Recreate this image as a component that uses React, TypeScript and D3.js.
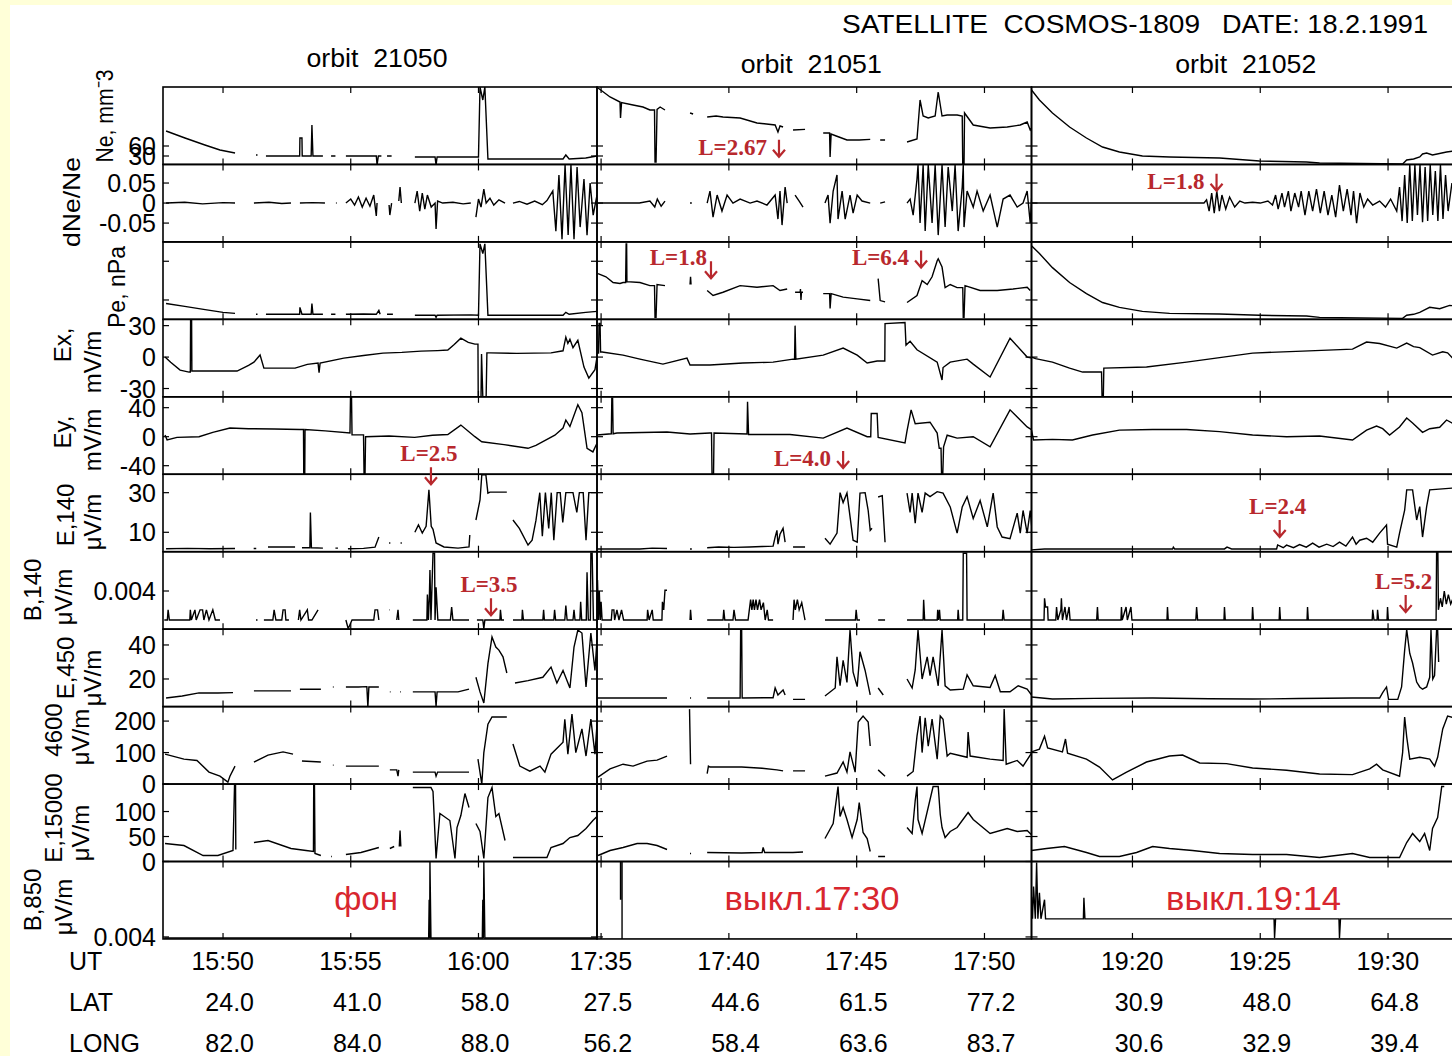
import React, { useEffect, useRef } from "react";
import * as d3 from "d3";

type Pt = [number, number] | null;

// ---------------- data ----------------
const orbits = ["21050", "21051", "21052"];
const orbitHour = [15, 17, 19];
// minutes after orbitHour shown in each column
const orbitSpan = [
  [47.65, 64.64],
  [34.84, 51.84],
  [16.05, 33.05],
];
const utLabels = [
  ["15:50", "15:55", "16:00"],
  ["17:35", "17:40", "17:45", "17:50"],
  ["19:20", "19:25", "19:30"],
];
const latLabels = [
  ["24.0", "41.0", "58.0"],
  ["27.5", "44.6", "61.5", "77.2"],
  ["30.9", "48.0", "64.8"],
];
const longLabels = [
  ["82.0", "84.0", "88.0"],
  ["56.2", "58.4", "63.6", "83.7"],
  ["30.6", "32.9", "39.4"],
];

const rowTitles = [
  ["Ne, mm⁻3"],
  ["dNe/Ne"],
  ["Pe, nPa"],
  ["Ex,", "mV/m"],
  ["Ey,", "mV/m"],
  ["E,140", "μV/m"],
  ["B,140", "μV/m"],
  ["E,450", "μV/m"],
  ["4600", "μV/m"],
  ["E,15000", "μV/m"],
  ["B,850", "μV/m"],
];
const rowDomains = [
  [4.65, 237],
  [-0.097, 0.0964],
  [0, 4],
  [-37.9, 36],
  [-51.8, 55],
  [0.2, 39.3],
  [-0.00126, 0.00942],
  [3.76, 49.3],
  [0, 246],
  [0, 155],
  [0.0038, 0.0115],
];
const rowTicks = [
  [30, 60],
  [-0.05, 0, 0.05],
  [1, 3],
  [-30, 0, 30],
  [-40, 0, 40],
  [10, 30],
  [0.004],
  [20, 40],
  [0, 100, 200],
  [0, 50, 100],
  [0.004],
];
const rowTickText = [true, true, false, true, true, true, true, true, true, true, true];

// Ne
const ne0: Pt[] = [[47.77,105],[48.51,84],[49.29,63],[49.88,48],[50.47,39],null,[51.29,33],[51.35,33],null,[51.68,30],[52.74,30],[53.0,30],[53.01,84],[53.09,84],[53.1,30],[53.45,30],[53.48,123],[53.52,30],[53.91,30],null,[54.23,30],[54.4,30],null,[54.81,30],[55.87,30],[56.0,30],[56.03,3],[56.08,30],[56.2,30],null,[56.42,30],[56.6,30],null,[57.51,27],[58.3,27],[58.34,3],[58.38,27],[59.7,27],[60.0,27],[60.06,237],[60.17,198],[60.25,237],[60.37,21],[63.31,21],[63.42,33],[63.55,21],[64.2,24],[64.64,30]];
const ne1: Pt[] = [[34.88,234],[35.35,207],[35.74,192],[35.76,144],[35.8,190],[36.25,183],[36.64,177],[36.91,168],[37.09,168],[37.11,12],[37.15,12],[37.19,170],[37.31,177],[37.5,168],null,[38.48,159],[38.6,156],null,[39.15,147],[39.5,150],[39.77,147],[40.44,144],[41.1,129],[41.81,123],[41.92,102],[42.0,120],[42.12,117],null,[42.51,108],[42.98,110],null,[43.69,99],[43.94,99],[43.96,27],[44.0,96],[44.2,90],[44.62,78],[45.1,78],[45.53,80],null,[45.92,78],[46.11,78],null,[46.97,72],[47.36,81],[47.48,198],[47.6,150],[47.8,144],[48.07,150],[48.19,222],[48.34,150],[48.54,153],[48.93,153],[49.13,150],[49.15,3],[49.2,3],[49.22,159],[49.56,123],[50.22,114],[50.89,117],[51.4,123],[51.67,132],[51.79,108],[51.87,117]];
const ne2: Pt[] = [[16.05,228],[16.36,198],[16.87,159],[17.54,117],[18.2,84],[18.83,57],[19.49,42],[20.39,30],[21.45,27],[23.41,24],[24.97,15],[26.81,12],[27.32,9],[30.57,6],[30.73,18],[31.0,21],[31.24,27],[31.35,36],[31.51,39],[31.74,33],[32.29,42],[32.6,45]];

// dNe/Ne
const dne0: Pt[] = [[47.77,0],[48.5,0.002],[49.2,-0.002],[50.0,0.001],[50.47,0],null,[51.21,0],[51.8,0.002],[52.3,-0.001],[52.66,0],null,[53.01,0],[53.5,0.001],[53.99,0],null,[54.42,0],[54.45,0],null,[54.81,0],[55.0,0.01],[55.15,-0.005],[55.3,0.015],[55.45,-0.01],[55.6,0.012],[55.75,-0.008],[55.9,0.02],[56.0,-0.032],[56.03,0],null,[56.5,-0.005],[56.53,-0.03],[56.6,0],null,[56.88,0.005],[56.93,0.04],[56.98,0],null,[57.51,0],[57.6,0.03],[57.7,-0.02],[57.8,0.025],[57.9,-0.015],[58.0,0.02],[58.15,-0.01],[58.3,0],[58.34,-0.065],[58.4,0.005],[58.6,0],[59.0,0.002],[59.4,-0.002],[59.7,0],null,[59.9,-0.035],[60.0,0.01],[60.1,-0.01],[60.21,0.035],[60.3,0],[60.45,0.012],[60.6,-0.005],[60.8,0.008],[61.04,0],null,[61.35,0],[61.6,0.004],[61.9,-0.003],[62.2,0.005],[62.5,-0.004],[62.68,0.006],[62.91,0.03],[63.03,-0.07],[63.15,0.07],[63.27,-0.09],[63.39,0.095],[63.51,-0.08],[63.62,0.095],[63.74,-0.09],[63.86,0.09],[63.98,-0.06],[64.13,0.06],[64.25,-0.08],[64.37,0.05],[64.49,-0.03],[64.64,0.02]];
const dne1: Pt[] = [[34.88,0],[36.5,0],[36.91,0.005],[37.1,-0.01],[37.2,0.01],[37.35,-0.008],[37.5,0.005],null,[38.48,0],[38.55,0],null,[39.15,0],[39.26,0.03],[39.38,-0.035],[39.54,0.02],[39.73,-0.02],[39.93,0.02],[40.16,0],[40.44,0.01],[40.83,0],[41.1,0.005],[41.49,-0.005],[41.81,0.02],[41.92,-0.04],[42.0,0.03],[42.08,-0.055],[42.2,0.04],[42.28,0],null,[42.59,0.02],[42.75,0.005],[42.9,-0.01],null,[43.76,0],[43.88,0.02],[43.96,-0.05],[44.08,0.03],[44.23,0.07],[44.27,-0.04],[44.43,0.03],[44.55,-0.04],[44.74,0.02],[44.86,-0.025],[45.02,0.02],[45.21,0.005],[45.53,0],null,[45.92,0],[46.11,0.003],null,[46.97,0],[47.09,0.01],[47.21,-0.03],[47.36,0.06],[47.4,0.095],[47.48,-0.05],[47.6,0.095],[47.68,-0.07],[47.8,0.095],[47.95,-0.05],[48.07,0.095],[48.19,-0.08],[48.34,0.095],[48.46,-0.06],[48.58,0.09],[48.74,-0.02],[48.85,0.095],[48.97,-0.07],[49.13,0.04],[49.17,0.095],[49.2,-0.06],[49.32,0.03],[49.56,-0.01],[49.71,0.03],[49.95,-0.02],[50.22,0.02],[50.5,-0.06],[50.73,0.01],[51.0,0.02],[51.28,-0.01],[51.51,0],[51.67,0.03],[51.79,-0.05],[51.87,0.04]];
const dne2: Pt[] = [[16.05,0],[22.8,0],[22.9,0.008],[23.0,-0.02],[23.1,0.025],[23.2,-0.025],[23.3,0.03],[23.4,-0.02],[23.5,0.02],[23.65,-0.015],[23.8,0.015],[24.0,-0.01],[24.2,0.005],[24.4,0],[24.7,0.002],[25.0,0],[25.3,0.005],[25.48,-0.005],[25.6,0.02],[25.7,-0.015],[25.85,0.025],[25.95,-0.01],[26.1,0.03],[26.2,-0.02],[26.35,0.025],[26.5,-0.01],[26.6,0.03],[26.75,-0.03],[26.9,0.03],[27.05,-0.02],[27.2,0.035],[27.35,-0.025],[27.5,0.03],[27.65,-0.03],[27.8,0.02],[27.95,-0.035],[28.1,0.045],[28.25,-0.02],[28.4,0.035],[28.55,-0.03],[28.65,0.03],[28.77,-0.05],[28.9,0.025],[29.05,-0.01],[29.2,0.01],[29.4,-0.005],[29.67,0.005],[29.9,-0.01],[30.1,0.01],[30.34,-0.02],[30.45,0.04],[30.55,-0.045],[30.65,0.07],[30.75,-0.05],[30.85,0.095],[30.95,-0.045],[31.05,0.095],[31.15,-0.03],[31.25,0.095],[31.35,-0.048],[31.45,0.09],[31.55,-0.045],[31.65,0.095],[31.75,-0.03],[31.85,0.08],[31.95,-0.045],[32.05,0.095],[32.15,-0.04],[32.25,0.07],[32.35,-0.02],[32.5,0.05]];

// Pe
const pe0: Pt[] = [[47.77,0.82],[48.5,0.67],[49.3,0.5],[50.0,0.36],[50.47,0.31],null,[51.29,0.26],[51.35,0.26],null,[51.68,0.26],[53.0,0.26],[53.01,0.62],[53.09,0.26],[53.45,0.26],[53.48,0.82],[53.52,0.26],[53.91,0.26],null,[54.23,0.26],[54.4,0.26],null,[54.81,0.26],[55.5,0.28],[56.0,0.26],[56.1,0.46],[56.15,0.26],null,[56.42,0.26],[56.65,0.26],null,[57.51,0.21],[58.3,0.21],[58.34,0.1],[58.38,0.21],[59.7,0.23],[60.0,0.21],[60.06,3.9],[60.17,3.4],[60.25,3.9],[60.37,0.21],[63.31,0.21],[63.42,0.36],[63.55,0.26],[64.2,0.36],[64.64,0.41]];
const pe1: Pt[] = [[34.88,2.36],[35.19,2.2],[35.47,1.9],[35.74,1.85],[35.86,1.9],[35.96,1.9],[35.98,3.9],[36.0,3.9],[36.01,1.95],[36.52,1.9],[36.91,1.74],[37.09,1.74],[37.11,0.1],[37.15,0.1],[37.19,1.8],[37.5,1.74],null,[38.48,1.8],[38.5,2.2],[38.52,1.8],null,[39.15,1.49],[39.38,1.23],[39.77,1.4],[40.44,1.74],[41.1,1.66],[41.73,1.74],[42.0,1.49],[42.28,1.57],null,[42.59,1.4],[42.79,1.4],[42.8,1.57],[42.82,1.0],[42.84,1.4],[42.9,1.4],null,[43.69,1.33],[43.94,1.33],[43.96,0.56],[44.0,1.33],[44.47,1.15],[45.02,1.06],[45.53,0.97],null,[45.84,2.1],[45.92,0.97],[46.11,0.9],null,[46.97,0.87],[47.36,1.23],[47.56,2.0],[47.76,1.8],[47.95,2.2],[48.15,3.03],[48.19,3.13],[48.34,2.7],[48.46,1.64],[48.66,1.8],[48.93,1.64],[49.15,1.64],[49.17,0.1],[49.2,0.1],[49.24,1.74],[49.83,1.49],[50.5,1.49],[51.12,1.57],[51.67,1.66],[51.79,1.49]];
const pe2: Pt[] = [[16.05,3.8],[16.36,3.4],[16.87,2.67],[17.54,1.9],[18.2,1.33],[18.83,0.87],[19.49,0.62],[20.39,0.41],[21.45,0.31],[23.41,0.28],[24.97,0.21],[26.81,0.17],[27.32,0.1],[30.57,0.05],[30.73,0.21],[31.0,0.26],[31.24,0.36],[31.45,0.5],[31.63,0.62],[32.02,0.55],[32.41,0.72],[32.6,0.7]];

// Ex
const ex0: Pt[] = [[47.73,0],[47.95,-5],[48.32,-12.4],[48.67,-14.3],[48.72,-14.3],[48.73,35],[48.77,35],[48.78,-13.3],[50.55,-13.3],[51.0,-8],[51.21,-4.8],[51.45,2],[51.6,-10.5],[52.82,-10.5],[53.3,-7],[53.72,-5.7],[53.76,-15],[53.8,-5.7],[54.73,-1],[55.5,1.5],[56.26,3.8],[57.0,4.5],[57.75,5.7],[58.4,6.2],[58.8,6.7],[59.05,12],[59.31,18],[59.6,14],[59.86,12.4],[59.98,12.4],[59.99,-38],[60.1,-38],[60.12,3],[60.17,-38],[60.3,-38],[60.33,4],[60.45,4],[61.5,3.5],[62.84,4],[63.31,6],[63.42,19],[63.5,13],[63.58,17],[63.7,9],[63.89,16],[64.13,-9.5],[64.32,-20],[64.56,-12],[64.64,0]];
const ex1: Pt[] = [[34.84,3.8],[34.9,3.8],[34.92,32],[34.96,32],[34.98,4.8],[35.04,4.8],[35.86,1.9],[36.52,-1.9],[37.42,-6.7],[38.36,-1],[38.48,-7.6],[39.26,-7.6],[40.55,-5.7],[41.73,-4.8],[42.51,-2],[42.57,-2],[42.59,30],[42.62,-2],[43.69,1.9],[44.47,8.6],[45.02,1.9],[45.41,-5.7],[45.8,-3.8],[46.1,-3.8],[46.11,32],[46.89,33],[46.93,11.4],[47.09,15],[47.36,7],[48.15,-4.8],[48.34,-21.9],[48.38,-10],[48.66,-4.8],[49.32,-2],[49.56,-6.7],[50.22,-19],[51.0,18],[51.67,0],[51.87,-1]];
const ex2: Pt[] = [[16.05,0],[16.21,-1.5],[16.87,-4.8],[17.54,-10.5],[18.05,-14.3],[18.79,-14.3],[18.81,-38],[18.86,-38],[18.88,-10.5],[20.55,-9.5],[22.12,-4.8],[24.7,3.8],[26.66,5.7],[28.61,7.6],[29.16,14.3],[29.67,13],[30.34,8.6],[30.73,13.3],[31.0,10],[31.24,9],[31.74,1.9],[32.14,5],[32.33,4],[32.6,-3]];

// Ey
const ey0: Pt[] = [[47.73,2.3],[47.81,-4.4],[48.2,-1],[49.06,0],[49.6,6],[50.27,12],[51.0,11],[52.0,10.6],[53.0,10],[53.15,10],[53.16,-51],[53.2,-51],[53.21,10],[54.0,8],[54.97,5],[54.99,55],[55.03,55],[55.05,2.5],[55.5,2.5],[55.52,-51],[55.56,-51],[55.58,0],[56.5,1],[57.5,-1],[58.2,2],[58.8,3],[59.31,16],[59.86,0],[60.13,-7],[61.0,-11],[61.94,-16],[62.25,-12],[62.99,2],[63.31,12],[63.42,23],[63.58,14],[63.89,44],[64.05,33],[64.25,-16],[64.48,-21],[64.64,-9]];
const ey1: Pt[] = [[34.84,2.3],[35.4,4],[35.42,53],[35.45,53],[35.47,4],[35.62,5],[37.58,6.5],[38.48,3.7],[39.26,5],[39.32,5],[39.34,-51],[39.4,-51],[39.42,5],[40.71,3.7],[40.73,48],[40.77,3],[42.39,3],[43.69,-2],[44.62,12],[45.41,0],[45.55,0],[45.57,32],[45.8,32],[45.84,-1],[46.89,-8.6],[46.97,8],[47.13,37],[47.29,18],[47.87,20],[48.15,5],[48.23,-16],[48.3,-16],[48.32,-51],[48.37,-51],[48.4,-14],[48.54,2],[48.93,-2],[49.56,0],[50.22,-14],[51.0,37],[51.67,13.4],[51.87,9]];
const ey2: Pt[] = [[16.05,9],[16.13,-4.6],[16.87,-3.7],[17.65,-4.6],[18.44,2.3],[19.49,9],[20.79,10],[22.12,10],[23.41,7],[24.7,2.3],[26.03,0],[27.32,1],[28.61,-4.6],[29.16,9],[29.55,14.7],[29.79,11],[30.06,2.3],[30.45,13.4],[30.73,25.8],[30.96,19],[31.35,6],[31.63,11],[32.02,13],[32.29,23],[32.6,17]];

// E,140
const e140_0: Pt[] = [[47.77,1.7],[48.6,1.9],[49.5,1.7],[50.47,1.8],null,[51.2,1.8],[51.3,1.8],null,[51.76,2.6],[52.82,2.6],null,[53.09,2.2],[53.4,2.2],[53.42,20],[53.46,2.2],[53.91,2.0],null,[54.4,2],[54.5,2],null,[54.89,1.7],[55.5,1.9],[55.95,2.5],[56.1,7.6],null,[56.5,4.6],[56.55,4.6],null,[56.95,4.6],[57.0,4.6],null,[57.51,10],[57.65,13.7],[57.8,9.6],[57.95,13],[58.06,31.4],[58.15,13],[58.22,11.5],[58.34,4.6],[58.65,2.6],[59.2,2.0],[59.63,2.6],[59.66,8.6],null,[59.9,16.2],[60.06,26.3],[60.13,39],[60.29,39],[60.37,29.8],[60.45,30.3],[61.11,30.3],null,[61.35,16.2],[61.6,12],[61.94,3.6],[62.1,6],[62.25,16],[62.4,30],[62.5,8],[62.62,30],[62.75,12],[62.85,30],[62.95,6],[63.08,30],[63.2,30],[63.3,15],[63.42,30],[63.55,30],[63.7,30],[63.85,20],[63.95,30],[64.1,30],[64.21,6],[64.32,30],[64.64,30]];
const e140_1: Pt[] = [[34.84,1.6],[36.52,1.6],[37.0,2.0],[37.58,1.8],null,[38.48,1.6],[38.55,1.6],null,[39.15,2.2],[39.6,2.6],[40.2,2.4],[40.8,2.6],[41.3,2.8],[41.73,3],[41.81,7.6],[41.88,11],[41.92,4],[42.0,9],[42.12,12],[42.2,5],null,[42.51,2.6],[42.98,2.6],null,[43.76,7],[43.96,4],[44.23,9.6],[44.35,30],[44.47,25],[44.62,29.8],[44.86,6],[45.02,5],[45.13,29.8],[45.33,30],[45.45,21],[45.53,11],[45.6,12],null,[45.84,27.8],[46.0,28.5],[46.11,5],null,[46.97,29.8],[47.09,20],[47.17,29.8],[47.29,14.6],[47.4,29.8],[47.56,20],[47.68,29.8],[47.87,28],[48.15,30.5],[48.38,29.8],[48.66,22.8],[48.93,9.6],[49.13,22.8],[49.32,28],[49.56,17],[49.83,26],[50.11,12.7],[50.34,29.8],[50.5,12.7],[50.69,7.6],[51.0,6.8],[51.28,19.7],[51.4,9.6],[51.51,21],[51.67,9.6],[51.79,21],[51.87,10]];
const e140_2: Pt[] = [[16.05,1.1],[16.56,1.6],[21.57,1.6],[21.6,2.5],[21.65,1.6],[23.6,1.6],[23.7,2.5],[23.88,1.6],[25.64,1.6],[25.68,3.6],[25.9,2.2],[26.03,3.5],[26.3,2.2],[26.54,3.8],[26.8,2.5],[27.05,4.5],[27.3,2.5],[27.6,4],[27.85,2.8],[28.1,5],[28.35,3],[28.61,7.6],[28.75,4],[28.89,6],[29.16,7],[29.4,5],[29.67,9.6],[29.94,13.7],[29.98,4],[30.34,2.5],[30.45,9.6],[30.65,21.2],[30.73,31.4],[30.96,31.4],[31.12,16.2],[31.24,23],[31.35,7.6],[31.51,23],[31.63,31.4],[32.6,32.4]];

// B,140
const b140_0: Pt[] = [[47.7,0],[47.82,0],[47.85,0.0014],[47.9,0],[48.7,0],[48.72,0.0014],[48.76,0],[48.9,0.0014],[48.95,0],[49.1,0.0014],[49.2,0.0014],[49.25,0],[49.35,0.0014],[49.45,0],[49.6,0.0014],[49.7,0],[49.88,0],null,[51.29,0],[51.35,0],null,[51.6,0],[51.95,0],[52.0,0.0014],[52.07,0],[52.3,0],[52.35,0.0014],[52.43,0.0014],[52.46,0],[52.58,0],null,[52.95,0],[53.0,0.0014],[53.05,0],[53.3,0.0014],[53.35,0],[53.48,0],[53.72,0.0014],null,[54.81,0],[54.9,-0.0012],[55.05,0],[55.9,0],[55.95,0.0014],[56.05,0.0014],[56.1,0],null,[56.5,0.0014],[56.52,0.0014],null,[56.8,0],[56.85,0.0014],[56.88,0],null,[57.43,0],[57.98,0],[58.0,0.0035],[58.04,0],[58.08,0.0035],[58.1,0.0069],[58.14,0],[58.22,0.0092],[58.28,0.0092],[58.3,0],[58.34,0.0045],[58.41,0],[58.9,0],[58.95,0.0018],[59.0,0],[59.63,0],null,[59.94,0],[60.17,0],[60.21,-0.0012],[60.25,0],[60.45,0],[60.84,0],[60.86,0.0014],[60.9,0],[61.0,0],null,[61.35,0],[61.7,0],[61.72,0.0014],[61.76,0],[62.52,0],[62.55,0.0014],[62.58,0],[62.95,0],[62.98,0.0014],[63.02,0],[63.38,0],[63.42,0.002],[63.47,0],[63.7,0],[63.74,0.0014],[63.78,0],[63.97,0],[64.0,0.0025],[64.04,0],[64.22,0],[64.25,0.0066],[64.3,0],[64.38,0],[64.4,0.0092],[64.45,0.0092],[64.5,0],[64.64,0]];
const b140_1: Pt[] = [[34.84,0],[34.86,0.0055],[34.9,0],[34.93,0.004],[34.97,0],[35.0,0.0025],[35.04,0],[35.4,0],[35.43,0.0014],[35.5,0.0014],[35.53,0],[35.62,0.0014],[35.7,0],[35.8,0.0014],[35.88,0],[36.01,0],[36.8,0],[36.82,0.0014],[36.88,0],[37.0,0.0014],[37.04,0],[37.38,0],[37.4,0.0025],[37.45,0.0014],[37.5,0.0041],[37.58,0.0041],null,[38.48,0],[38.5,0.0014],[38.53,0],null,[39.15,0],[39.77,0],[39.8,0.0014],[39.84,0],[40.16,0],[40.2,0.0014],[40.26,0],[40.75,0],[40.8,0.0014],[40.85,0.0028],[40.9,0.0014],[40.95,0.0028],[41.0,0.0014],[41.06,0.0028],[41.12,0.0014],[41.2,0.0028],[41.26,0.0014],[41.35,0.0024],[41.42,0],[41.5,0.0014],[41.55,0],[41.73,0],null,[42.51,0],[42.55,0.0028],[42.6,0.0014],[42.68,0.0028],[42.75,0.0014],[42.85,0.0024],[42.98,0],null,[43.76,0],[44.95,0],[44.98,0.0014],[45.02,0],[45.13,0],null,[45.84,0],[46.11,0],null,[46.97,0],[47.6,0],[47.62,0.0028],[47.66,0],[48.15,0],[48.17,0.0014],[48.2,0],[48.24,0.0014],[48.27,0],[48.95,0],[48.97,0.0014],[49.0,0],[49.15,0],[49.17,0.0092],[49.3,0.0092],[49.32,0],[50.7,0],[50.73,0.0014],[50.77,0],[51.87,0]];
const b140_2: Pt[] = [[16.05,0],[16.54,0],[16.56,0.003],[16.6,0.0018],[16.68,0.0018],[16.7,0],[17.0,0],[17.03,0.0018],[17.08,0],[17.2,0.0014],[17.22,0.003],[17.26,0],[17.36,0.0018],[17.42,0],[17.52,0.0018],[17.56,0],[18.6,0],[18.63,0.0018],[18.66,0],[19.55,0],[19.57,0.0018],[19.6,0],[19.75,0.0018],[19.8,0],[19.94,0.0018],[19.98,0],[21.35,0],[21.37,0.0018],[21.4,0],[22.48,0],[22.51,0.0018],[22.55,0],[23.58,0],[23.6,0.0018],[23.63,0],[24.68,0],[24.7,0.0018],[24.73,0],[25.74,0],[25.76,0.0018],[25.79,0],[26.83,0],[26.85,0.0018],[26.88,0],[29.38,0],[29.4,0.0014],[29.45,0],[29.57,0],[29.59,0.0014],[29.63,0],[29.96,0],[29.98,0.0018],[30.01,0],[31.88,0],[31.9,0.0094],[31.95,0.0094],[31.97,0.0014],[32.05,0.003],[32.12,0.0018],[32.2,0.004],[32.28,0.0022],[32.36,0.0035],[32.45,0.0022],[32.6,0.0035]];

// E,450
const e450_0: Pt[] = [[47.77,8.8],[48.4,10],[49.06,11.8],[49.8,11.8],[50.39,12],null,[51.21,13],[52.0,13],[52.66,13],null,[53.01,14],[53.83,14],null,[54.3,15.3],[54.33,15.3],null,[54.81,15.3],[55.3,15.3],[55.63,15.5],[55.67,3.5],[55.71,15.3],[56.1,15.3],null,[56.53,12.4],[56.56,12.4],null,[56.93,12.4],[56.96,12.4],null,[57.43,12.4],[58.3,12.4],[58.34,4],[58.38,12.4],[59.2,12.4],[59.63,14],null,[59.9,21],[60.06,12.4],[60.21,5.9],[60.37,29],[60.53,44.7],[60.68,38.8],[60.8,37],[60.96,33],[61.11,23.5],null,[61.43,17.6],[61.94,19],[62.52,21],[62.84,27],[63.07,17.6],[63.31,25],[63.58,14.7],[63.74,38.8],[63.89,48.8],[64.05,47],[64.21,15.3],[64.4,47],[64.56,25],[64.64,43]];
const e450_1: Pt[] = [[34.84,8.8],[36.0,8.8],[37.58,8.8],null,[38.48,8.8],[38.52,8.8],null,[39.15,8.8],[40.44,8.8],[40.46,48.8],[40.5,48.8],[40.52,8.8],[41.73,9],[41.81,14.7],[41.92,10.6],[42.12,13.5],[42.2,10.6],null,[42.51,8],[42.98,8],null,[43.76,10],[44.16,14.7],[44.23,33],[44.35,16],[44.47,31],[44.62,18],[44.74,48.8],[44.86,24],[45.02,15.5],[45.13,36],[45.33,25],[45.53,10.6],null,[45.84,14.7],[46.04,10.6],null,[46.97,20],[47.17,14.7],[47.29,25.3],[47.4,48.8],[47.56,20],[47.76,33],[47.87,22],[47.99,33],[48.19,16],[48.34,48.8],[48.46,16],[48.66,13.5],[49.17,14],[49.32,22.4],[49.56,16],[50.22,15],[50.42,22],[50.62,12.5],[51.0,12.5],[51.32,16],[51.67,14],[51.87,10]];
const e450_2: Pt[] = [[16.05,9.4],[16.87,8.2],[18.5,8.6],[20.79,8.8],[23.0,8.4],[24.7,8.2],[26.5,8.5],[28.61,8.8],[29.67,8.8],[29.79,12],[29.94,15.3],[30.02,8],[30.38,8],[30.53,15.3],[30.65,37],[30.73,49],[30.85,35],[30.96,29.4],[31.12,18.2],[31.24,15.3],[31.35,14],[31.51,15.3],[31.63,21],[31.68,49],[31.75,20],[31.82,22],[31.9,49],[31.94,49],[31.98,30]];

// E,4600
const e4600_0: Pt[] = [[47.73,95],[48.47,79],[48.98,75],[49.45,38],[49.88,25],[50.19,6],[50.27,25],[50.47,57],null,[51.21,70],[51.76,92],[52.35,102],[52.74,95],null,[53.09,73],[53.83,70],null,[54.3,60],[54.33,60],null,[54.81,57],[56.1,57],null,[56.53,45],[56.8,45],[56.85,25],[56.88,45],null,[57.43,38],[58.3,38],[58.34,25],[58.4,38],[59.63,38],null,[59.98,79],[60.13,0],[60.21,100],[60.37,190],[60.53,213],[61.11,213],null,[61.35,127],[61.62,57],[62.01,41],[62.41,57],[62.6,38],[62.84,95],[63.31,133],[63.38,206],[63.5,95],[63.66,222],[63.81,100],[64.05,175],[64.21,89],[64.4,206],[64.56,95],[64.64,190]];
const e4600_1: Pt[] = [[34.88,22],[35.35,48],[35.86,63],[36.25,57],[36.8,73],[37.19,76],[37.58,89],null,[38.46,238],[38.5,63],null,[39.15,33],[39.2,57],[39.26,54],[40.5,54],[41.3,50],[41.88,45],[42.12,42],null,[42.51,42],[42.98,42],null,[43.76,25],[44.23,35],[44.47,70],[44.62,38],[44.74,102],[44.94,38],[45.06,197],[45.25,216],[45.45,197],[45.53,121],null,[45.84,45],[46.11,25],null,[46.97,25],[47.21,40],[47.36,152],[47.48,216],[47.56,100],[47.68,210],[47.8,120],[47.95,206],[48.15,79],[48.27,216],[48.38,206],[48.54,89],[48.66,98],[49.32,85],[49.36,165],[49.44,89],[50.22,79],[50.73,75],[50.77,238],[50.85,63],[51.28,75],[51.51,57],[51.87,102]];
const e4600_2: Pt[] = [[16.05,102],[16.36,111],[16.56,152],[16.68,115],[17.26,102],[17.38,143],[17.46,98],[18.2,79],[18.71,54],[19.22,13],[19.77,38],[20.55,70],[21.45,89],[21.96,92],[22.63,67],[23.68,65],[24.7,51],[26.03,44],[27.32,32],[28.61,30],[29.28,48],[29.55,63],[29.79,45],[30.45,25],[30.57,100],[30.65,213],[30.73,150],[30.85,79],[31.24,85],[31.63,79],[31.82,57],[31.94,85],[32.14,175],[32.33,216],[32.6,210]];

// E,15000
const e15k_0: Pt[] = [[47.73,36],[48.47,32],[49.22,12],[49.8,12],[50.39,22],[50.45,152],[50.49,152],[50.5,24],null,[51.21,38],[51.76,42],[52.66,26],[53.25,22],[53.54,20],[53.55,152],[53.58,152],[53.6,16],[53.83,12],null,[54.23,10],[54.26,10],null,[54.81,14],[55.4,18],[56.1,28],null,[56.53,26],[56.7,30],null,[56.9,30],[56.93,62],[56.96,30],null,[57.43,148],[58.14,148],[58.22,140],[58.34,6],[58.49,96],[58.88,82],[59.08,6],[59.16,68],[59.31,92],[59.47,136],[59.63,108],null,[59.9,76],[60.06,60],[60.21,6],[60.37,128],[60.53,148],[60.68,90],[60.8,96],[61.04,42],null,[61.35,8],[62.68,8],[62.84,28],[63.31,36],[63.58,48],[63.89,52],[64.21,66],[64.48,82],[64.64,90]];
const e15k_1: Pt[] = [[34.88,12],[35.35,22],[35.86,28],[36.41,36],[36.8,36],[37.19,32],[37.58,24],null,[38.48,16],[38.52,16],null,[39.15,18],[40.5,17],[41.3,18],[41.34,28],[41.4,18],[42.5,18],[42.9,19],null,[43.76,46],[44.08,76],[44.27,150],[44.35,90],[44.47,108],[44.62,84],[44.82,48],[45.02,84],[45.1,118],[45.25,58],[45.41,46],[45.53,20],null,[45.84,10],[46.11,10],null,[46.97,68],[47.17,56],[47.29,122],[47.36,150],[47.4,84],[47.56,56],[47.99,150],[48.19,150],[48.27,94],[48.34,68],[48.46,48],[48.66,60],[48.93,68],[49.36,98],[49.56,84],[50.22,56],[50.89,66],[51.28,60],[51.67,62],[51.87,52]];
const e15k_2: Pt[] = [[16.05,22],[16.64,26],[17.34,30],[18.2,18],[18.71,10],[19.49,10],[20.16,18],[20.79,30],[21.45,26],[22.35,22],[23.41,16],[24.7,14],[26.03,14],[27.32,8],[28.61,16],[29.28,8],[30.45,8],[30.73,38],[30.96,56],[31.24,40],[31.43,56],[31.63,22],[31.74,66],[31.94,88],[32.1,150],[32.2,150]];

// B,850
const b850_0: Pt[] = [[47.7,0.0039],[58.05,0.0039],[58.07,0.0077],[58.09,0.0039],[58.1,0.0115],[58.14,0.0039],[60.15,0.0039],[60.17,0.0077],[60.19,0.0039],[60.21,0.0115],[60.25,0.0039],[64.64,0.0039]];
const b850_1: Pt[] = [[35.76,0.0115],[35.76,0.0077],null,[35.82,0.0115],[35.82,0.0038]];
const b850_2: Pt[] = [[16.05,0.008],[16.09,0.0058],[16.13,0.009],[16.2,0.0058],[16.25,0.0114],[16.3,0.0058],[16.36,0.0084],[16.42,0.0058],[16.56,0.0077],[16.6,0.0058],[18.08,0.0058],[18.1,0.0079],[18.14,0.0058],[25.54,0.0058],[25.56,0.0039],[25.6,0.0058],[28.08,0.0058],[28.1,0.0039],[28.14,0.0058],[32.6,0.0058]];

const traces: Pt[][][] = [
  [ne0, ne1, ne2],
  [dne0, dne1, dne2],
  [pe0, pe1, pe2],
  [ex0, ex1, ex2],
  [ey0, ey1, ey2],
  [e140_0, e140_1, e140_2],
  [b140_0, b140_1, b140_2],
  [e450_0, e450_1, e450_2],
  [e4600_0, e4600_1, e4600_2],
  [e15k_0, e15k_1, e15k_2],
  [b850_0, b850_1, b850_2],
];

// L-shell marks: orbit, time (min), row, position in row, text
const lMarks = [
  { orbit: 1, t: 41.96, row: 0, frac: 0.9, text: "L=2.67", mode: "inline" },
  { orbit: 1, t: 39.3, row: 2, frac: 0.47, text: "L=1.8", mode: "corner" },
  { orbit: 1, t: 47.52, row: 2, frac: 0.33, text: "L=6.4", mode: "inline" },
  { orbit: 0, t: 58.14, row: 5, frac: 0.13, text: "L=2.5", mode: "stack" },
  { orbit: 0, t: 60.49, row: 6, frac: 0.82, text: "L=3.5", mode: "stack" },
  { orbit: 1, t: 44.47, row: 4, frac: 0.92, text: "L=4.0", mode: "inline" },
  { orbit: 2, t: 23.29, row: 1, frac: 0.34, text: "L=1.8", mode: "inline" },
  { orbit: 2, t: 25.76, row: 5, frac: 0.81, text: "L=2.4", mode: "stack" },
  { orbit: 2, t: 30.69, row: 6, frac: 0.78, text: "L=5.2", mode: "stack" },
];
const offNotes = ["фон", "выкл.17:30", "выкл.19:14"];
const offNoteTimes = [55.6, 43.25, 24.74];

// ---------------- layout ----------------
const W = 1452;
const H = 1056;
const colX = [163, 597, 1031.5, 1466];
const top0 = 87;
const rowH = 77.45;
const TICK = 6;
const SANS = "'Liberation Sans', Arial, Helvetica, sans-serif";
const SERIF = "'Liberation Serif', 'Times New Roman', serif";
const labelPos = [
  [[104, 116]],
  [[71, 202]],
  [[116, 287]],
  [[62, 345], [92, 362]],
  [[62, 432], [92, 440]],
  [[65, 515], [92, 522]],
  [[32, 590], [63, 597]],
  [[65, 668], [92, 678]],
  [[53, 730], [80, 737]],
  [[53, 818], [80, 833]],
  [[32, 900], [63, 907]],
];
// forced lengths for labels whose reference length differs from the font's
const labelLen: (number | null)[] = [93, 90, 82, null, null, null, null, null, null, null, null];
const titleY = [67, 73, 73];

const utMinutes = (label: string, c: number) => {
  const [h, m] = label.split(":").map(Number);
  return (h - orbitHour[c]) * 60 + m;
};

const App = () => {
  const ref = useRef<SVGSVGElement>(null);

  useEffect(() => {
    draw();
  });

  const draw = () => {
    const svg = d3.select(ref.current);
    svg.selectAll("*").remove();

    svg.append("rect").attr("width", W).attr("height", H).attr("fill", "#ffffd8");
    svg.append("rect").attr("x", 10).attr("y", 5).attr("width", W - 10).attr("height", H - 5).attr("fill", "#ffffff");

    const defs = svg.append("defs");

    const xScales = orbits.map((_, c) =>
      d3.scaleLinear().domain(orbitSpan[c]).range([colX[c], colX[c + 1]])
    );
    const yScales = rowDomains.map((dom, r) =>
      d3.scaleLinear().domain(dom).range([top0 + (r + 1) * rowH, top0 + r * rowH])
    );

    rowDomains.forEach((_, r) => {
      const y = yScales[r];
      const y0 = top0 + r * rowH;
      const y1 = y0 + rowH;
      orbits.forEach((_, c) => {
        const x = xScales[c];
        const x0 = colX[c];
        const x1 = colX[c + 1];
        const id = `clip-${r}-${c}`;
        defs.append("clipPath").attr("id", id).append("rect")
          .attr("x", x0).attr("y", y0).attr("width", x1 - x0).attr("height", rowH);

        const line = d3.line<Pt>()
          .defined((d) => d !== null)
          .x((d) => x((d as [number, number])[0]))
          .y((d) => y((d as [number, number])[1]));

        svg.append("path")
          .datum(traces[r][c])
          .attr("d", line)
          .attr("clip-path", `url(#${id})`)
          .attr("fill", "none")
          .attr("stroke", "#000")
          .attr("stroke-width", 1.4);

        // frame
        svg.append("rect")
          .attr("x", x0).attr("y", y0).attr("width", x1 - x0).attr("height", rowH)
          .attr("fill", "none").attr("stroke", "#000").attr("stroke-width", 1.6);

        const g = svg.append("g").attr("stroke", "#000").attr("stroke-width", 1.2);
        utLabels[c].forEach((lab) => {
          const xt = x(utMinutes(lab, c));
          g.append("line").attr("x1", xt).attr("x2", xt).attr("y1", y0).attr("y2", y0 + TICK);
          g.append("line").attr("x1", xt).attr("x2", xt).attr("y1", y1).attr("y2", y1 - TICK);
        });
        rowTicks[r].forEach((v) => {
          const yt = y(v);
          g.append("line").attr("x1", x0).attr("x2", x0 + TICK).attr("y1", yt).attr("y2", yt);
          g.append("line").attr("x1", x1).attr("x2", x1 - TICK).attr("y1", yt).attr("y2", yt);
        });
      });

      // tick labels on the left axis
      if (rowTickText[r]) {
        rowTicks[r].forEach((v) => {
          svg.append("text")
            .attr("x", 156)
            .attr("y", y(v))
            .attr("text-anchor", "end")
            .attr("dominant-baseline", "central")
            .attr("font-family", SANS)
            .attr("font-size", 25)
            .attr("fill", "#000")
            .text(String(v));
        });
      }

      // row titles, rotated
      rowTitles[r].forEach((t, i) => {
        const [lx, ly] = labelPos[r][i];
        const txt = svg.append("text")
          .attr("transform", `translate(${lx},${ly}) rotate(-90)`)
          .attr("text-anchor", "middle")
          .attr("dominant-baseline", "central")
          .attr("font-family", SANS)
          .attr("font-size", 24)
          .attr("fill", "#000")
          .text(t);
        const len = labelLen[r];
        if (len && i === 0) txt.attr("textLength", len).attr("lengthAdjust", "spacingAndGlyphs");
      });
    });

    // orbit titles
    orbits.forEach((o, c) => {
      svg.append("text")
        .attr("x", (colX[c] + colX[c + 1]) / 2 - 3)
        .attr("y", titleY[c])
        .attr("text-anchor", "middle")
        .attr("font-family", SANS)
        .attr("font-size", 25)
        .attr("fill", "#000")
        .attr("textLength", 141)
        .attr("lengthAdjust", "spacingAndGlyphs")
        .style("white-space", "pre")
        .text(`orbit  ${o}`);
    });

    svg.append("text")
      .attr("x", 842).attr("y", 33)
      .attr("font-family", SANS).attr("font-size", 26).attr("fill", "#000")
      .attr("textLength", 358).attr("lengthAdjust", "spacingAndGlyphs")
      .style("white-space", "pre")
      .text("SATELLITE  COSMOS-1809");
    svg.append("text")
      .attr("x", 1222).attr("y", 33)
      .attr("font-family", SANS).attr("font-size", 26).attr("fill", "#000")
      .attr("textLength", 206).attr("lengthAdjust", "spacingAndGlyphs")
      .text("DATE: 18.2.1991");

    // UT / LAT / LONG table
    const tableRows = [
      { name: "UT", y: 970, vals: utLabels },
      { name: "LAT", y: 1011, vals: latLabels },
      { name: "LONG", y: 1052, vals: longLabels },
    ];
    tableRows.forEach((tr) => {
      svg.append("text")
        .attr("x", 69).attr("y", tr.y)
        .attr("font-family", SANS).attr("font-size", 25).attr("fill", "#000")
        .text(tr.name);
      orbits.forEach((_, c) => {
        utLabels[c].forEach((lab, i) => {
          svg.append("text")
            .attr("x", xScales[c](utMinutes(lab, c)) + 31)
            .attr("y", tr.y)
            .attr("text-anchor", "end")
            .attr("font-family", SANS).attr("font-size", 25).attr("fill", "#000")
            .text(tr.vals[c][i]);
        });
      });
    });

    // instrument-off notes in the last row
    offNotes.forEach((t, c) => {
      const txt = svg.append("text")
        .attr("x", xScales[c](offNoteTimes[c]))
        .attr("y", top0 + 10 * rowH + 0.63 * rowH)
        .attr("text-anchor", "middle")
        .attr("font-family", SANS)
        .attr("font-size", 33)
        .attr("fill", "#d8262e")
        .text(t);
      if (c > 0) txt.attr("textLength", 175).attr("lengthAdjust", "spacingAndGlyphs");
    });

    // L-shell markers
    lMarks.forEach((m) => {
      const ax = xScales[m.orbit](m.t);
      const tip = top0 + m.row * rowH + m.frac * rowH;
      const red = "#b8282d";
      svg.append("path")
        .attr("d", `M${ax},${tip - 17}L${ax},${tip}M${ax - 6},${tip - 7}L${ax},${tip}L${ax + 6},${tip - 7}`)
        .attr("fill", "none")
        .attr("stroke", red)
        .attr("stroke-width", 2.2);
      let tx = ax - 12;
      let ty = tip - 2;
      let anchor = "end";
      if (m.mode === "corner") {
        tx = ax - 4;
        ty = tip - 13;
      } else if (m.mode === "stack") {
        tx = ax - 2;
        ty = tip - 23;
        anchor = "middle";
      }
      svg.append("text")
        .attr("x", tx).attr("y", ty)
        .attr("text-anchor", anchor)
        .attr("font-family", SERIF)
        .attr("font-weight", "bold")
        .attr("font-size", 23)
        .attr("fill", red)
        .text(m.text);
    });
  };

  return (
    <svg
      ref={ref}
      width={W}
      height={H}
      style={{ position: "absolute", left: 0, top: 0, display: "block" }}
    />
  );
};

export default App;
